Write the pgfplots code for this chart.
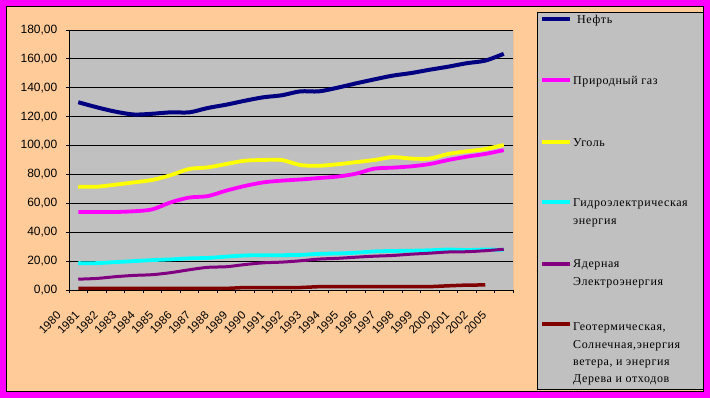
\documentclass[border=0pt]{standalone}
\usepackage{fontspec}
\setmainfont{Liberation Serif}
\newfontfamily\arial{Liberation Sans}
\newfontfamily\legfont{Liberation Serif}[LetterSpace=5]
\usepackage{pgfplots}
\pgfplotsset{compat=1.18}
\definecolor{peach}{HTML}{FFCC99}
\definecolor{lgray}{HTML}{C0C0C0}
\definecolor{frame}{HTML}{FF00FF}
\definecolor{oil}{HTML}{000080}
\definecolor{gas}{HTML}{FF00FF}
\definecolor{coal}{HTML}{FFFF00}
\definecolor{hydro}{HTML}{00FFFF}
\definecolor{nuc}{HTML}{800080}
\definecolor{geo}{HTML}{800000}
\begin{document}
\begin{tikzpicture}[x=1pt,y=1pt]
\fill[frame] (0,0) rectangle (710,398);
\filldraw[fill=peach, draw=black, line width=1pt] (6.5,6.5) rectangle (703.5,391.5);
\begin{axis}[
  at={(69pt,108pt)}, anchor=south west,
  width=444pt, height=260pt, scale only axis,
  xmin=-0.5, xmax=23.5, ymin=0, ymax=180,
  axis background/.style={fill=lgray},
  axis x line*=bottom, axis y line*=left,
  axis line style={black, line width=0.8pt},
  ymajorgrids, major grid style={black, line width=0.8pt},
  ytick={0,20,...,180},
  xtick={-0.5,0.5,...,23.5},
  xticklabels={1980,1981,1982,1983,1984,1985,1986,1987,1988,1989,1990,1991,1992,1993,1994,1995,1996,1997,1998,1999,2000,2001,2002,2005,{}},
  tick align=outside, major tick length=3.5pt,
  tick style={black, line width=0.8pt},
  tick label style={font=\arial\fontsize{12}{14}\selectfont},
  x tick label style={font=\arial\fontsize{11.5}{13}\selectfont, inner sep=0pt, anchor=east, xshift=-10pt, yshift=-20pt, rotate=45},
  y tick label style={inner sep=0pt, xshift=-8pt},
  /pgf/number format/.cd, fixed, fixed zerofill, precision=2, use comma, assume math mode=true,
]
\addplot[oil, line width=4pt, smooth] coordinates {
(0,130) (1,126.5) (2,123.5) (3,121.5) (4,122) (5,123) (6,123) (7,126) (8,128.3) (9,131) (10,133.4) (11,134.8)
(12,137.5) (13,137.5) (14,140) (15,143) (16,145.8) (17,148.4) (18,150.2) (19,152.5) (20,154.6) (21,157) (22,158.8) (23,163.5)};
\addplot[gas, line width=3.8pt, smooth] coordinates {
(0,54) (1,54) (2,54) (3,54.5) (4,55.8) (5,60.7) (6,64) (7,65) (8,68.8) (9,72) (10,74.5) (11,75.7)
(12,76.5) (13,77.5) (14,78.5) (15,80.5) (16,84) (17,84.7) (18,85.6) (19,87.2) (20,90) (21,92.3) (22,94.2) (23,96.8)};
\addplot[coal, line width=3.8pt, smooth] coordinates {
(0,71.5) (1,71.5) (2,72.9) (3,74.5) (4,76.2) (5,79.5) (6,83.8) (7,84.9) (8,87.2) (9,89.5) (10,90) (11,90)
(12,86.5) (13,86) (14,87) (15,88.5) (16,90) (17,92) (18,91) (19,91) (20,94.2) (21,96) (22,97.6) (23,100.4)};
\addplot[hydro, line width=3.8pt, smooth] coordinates {
(0,18.6) (1,18.6) (2,19.3) (3,20) (4,20.7) (5,21.2) (6,21.9) (7,22.2) (8,23.1) (9,23.9) (10,24.1) (11,24.1)
(12,24.3) (13,25) (14,25.3) (15,25.8) (16,26.7) (17,27) (18,27.2) (19,27.5) (20,28) (21,27.7) (22,28) (23,27.8)};
\addplot[nuc, line width=3pt, smooth] coordinates {
(0,7.5) (1,8) (2,9.2) (3,10.1) (4,10.6) (5,12) (6,14) (7,15.7) (8,16.1) (9,17.6) (10,18.8) (11,19.3)
(12,20.2) (13,21.4) (14,21.9) (15,22.7) (16,23.4) (17,23.9) (18,24.8) (19,25.5) (20,26.3) (21,26.5) (22,27.2) (23,28.2)};
\addplot[geo, line width=3.5pt] coordinates {
(0,1.1) (1,1.1) (2,1.1) (3,1.1) (4,1.1) (5,1.1) (6,1.1) (7,1.1) (8,1.1) (9,1.7) (10,1.7) (11,1.7)
(12,1.7) (13,2.3) (14,2.3) (15,2.3) (16,2.3) (17,2.3) (18,2.3) (19,2.3) (20,2.9) (21,3.4) (22,3.5)};
\draw[gray, line width=0.8pt] (rel axis cs:1,0) -- (rel axis cs:1,1);
\end{axis}
% legend
\filldraw[fill=lgray, draw=black, line width=0.8pt] (537,9) rectangle (703,386);
\begin{scope}[every node/.style={anchor=base west, inner sep=0pt, font=\legfont\fontsize{12}{14}\selectfont}]
\draw[oil, line width=3.5pt] (542,379) -- (570,379);
\node at (577,374) {Нефть};
\draw[gas, line width=3.5pt] (542,318) -- (570,318);
\node at (573,313) {Природный газ};
\draw[coal, line width=3.5pt] (542,256) -- (570,256);
\node at (573,251) {Уголь};
\draw[hydro, line width=3.5pt] (542,196) -- (570,196);
\node at (573,191) {Гидроэлектрическая};
\node at (573,173) {энергия};
\draw[nuc, line width=3.5pt] (542,134) -- (570,134);
\node at (573,130) {Ядерная};
\node at (573,112) {Электроэнергия};
\draw[geo, line width=3.5pt] (542,74) -- (570,74);
\node at (573,67) {Геотермическая,};
\node at (573,49) {Солнечная,энергия};
\node at (573,32) {ветера, и энергия};
\node at (573,15) {Дерева и отходов};
\end{scope}
\end{tikzpicture}
\end{document}
